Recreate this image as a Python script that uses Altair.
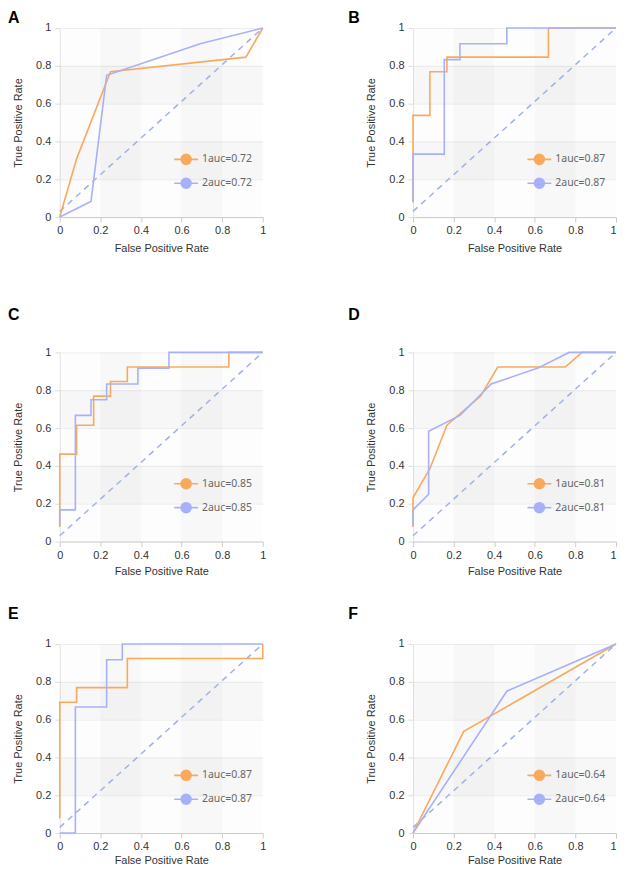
import altair as alt
import pandas as pd

LETTERS = ["A", "B", "C", "D", "E", "F"]
AUC1 = [0.72, 0.87, 0.85, 0.81, 0.87, 0.64]
AUC2 = [0.72, 0.87, 0.85, 0.81, 0.87, 0.64]

FPR1 = [
    [0, 0.083, 0.25, 0.917, 1],
    [0, 0, 0.083, 0.083, 0.167, 0.167, 0.667, 0.667, 1],
    [0, 0, 0.083, 0.083, 0.167, 0.167, 0.25, 0.25, 0.333, 0.333, 0.833, 0.833, 1],
    [0, 0, 0.083, 0.167, 0.25, 0.333, 0.417, 0.75, 0.833, 1],
    [0, 0, 0.083, 0.083, 0.333, 0.333, 1, 1],
    [0, 0.25, 1],
]
TPR1 = [
    [0, 0.308, 0.769, 0.846, 1],
    [0.077, 0.538, 0.538, 0.769, 0.769, 0.846, 0.846, 1, 1],
    [0.077, 0.462, 0.462, 0.615, 0.615, 0.769, 0.769, 0.846, 0.846, 0.923, 0.923, 1, 1],
    [0.077, 0.231, 0.385, 0.615, 0.692, 0.769, 0.923, 0.923, 1, 1],
    [0.077, 0.692, 0.692, 0.769, 0.769, 0.923, 0.923, 1],
    [0, 0.538, 1],
]
FPR2 = [
    [0, 0.154, 0.231, 0.692, 1],
    [0, 0, 0.154, 0.154, 0.231, 0.231, 0.462, 0.462, 1],
    [0, 0, 0.077, 0.077, 0.154, 0.154, 0.231, 0.231, 0.385, 0.385, 0.538, 0.538, 1],
    [0, 0, 0.077, 0.077, 0.231, 0.308, 0.385, 0.615, 0.769, 1],
    [0, 0.077, 0.077, 0.231, 0.231, 0.308, 0.308, 1],
    [0, 0.462, 1],
]
TPR2 = [
    [0, 0.083, 0.75, 0.917, 1],
    [0.083, 0.333, 0.333, 0.833, 0.833, 0.917, 0.917, 1, 1],
    [0.083, 0.167, 0.167, 0.667, 0.667, 0.75, 0.75, 0.833, 0.833, 0.917, 0.917, 1, 1],
    [0.083, 0.167, 0.25, 0.583, 0.667, 0.75, 0.833, 0.917, 1, 1],
    [0, 0, 0.667, 0.667, 0.917, 0.917, 1, 1],
    [0, 0.75, 1],
]

DIAG_X = [0, 1]
DIAG_Y = [0.03, 1]
BAND_EDGES = [0, 0.2, 0.4, 0.6, 0.8, 1]
BAND_SHADE = ["light", "dark", "light", "dark", "light"]
TICKS = [0, 0.2, 0.4, 0.6, 0.8, 1]

ORANGE = "#FAA95C"
BLUE = "#A7B1FA"
DIAG_COLOR = "#9DB3E4"
W, H = 204, 190
FONT = "Liberation Sans"
SYMBOL = "M-2,0L2,0M0.833,0A0.833,0.833,0,1,1,-0.833,0A0.833,0.833,0,1,1,0.833,0Z"

XS = alt.Scale(domain=[0, 1], nice=False)
YS = alt.Scale(domain=[0, 1], nice=False)


def x_axis(title_pad, right_col):
    extra = {}
    if right_col:
        extra["labelAlign"] = {"expr": "datum.value == 1 ? 'right' : 'center'"}
    return alt.Axis(values=TICKS, format="~g", title="False Positive Rate",
                    titleFont=FONT, titleFontSize=11, titleFontWeight="normal",
                    titleColor="#333", titlePadding=title_pad,
                    labelFont=FONT, labelFontSize=11, labelColor="#333",
                    labelFlush=False, labelOverlap=False, labelPadding=3,
                    tickSize=5, tickColor="#CCCCCC", domainColor="#CCCCCC",
                    grid=False, **extra)


Y_AXIS = alt.Axis(values=TICKS, format="~g", title="True Positive Rate",
                  titleFont=FONT, titleFontSize=11, titleFontWeight="normal",
                  titleColor="#333", titlePadding=12,
                  labelFont=FONT, labelFontSize=11, labelColor="#333",
                  labelFlush=False, labelOverlap=False, labelPadding=4,
                  tickSize=5, tickColor="#DDDDDD", domainColor="#DDDDDD",
                  grid=True, gridColor="#ECECEC")


def panel(i, dx, offset, title_pad, right_col):
    lab1 = f"1auc={AUC1[i]:.2f}"
    lab2 = f"2auc={AUC2[i]:.2f}"
    rows = []
    for k, (x, y) in enumerate(zip(FPR1[i], TPR1[i])):
        rows.append({"fpr": x, "tpr": y, "series": lab1, "ord": k})
    for k, (x, y) in enumerate(zip(FPR2[i], TPR2[i])):
        rows.append({"fpr": x, "tpr": y, "series": lab2, "ord": k})
    df = pd.DataFrame(rows)
    bands = pd.DataFrame({"start": BAND_EDGES[:-1], "end": BAND_EDGES[1:], "shade": BAND_SHADE})
    diag = pd.DataFrame({"fpr": DIAG_X, "tpr": DIAG_Y})
    xa = x_axis(title_pad, right_col)
    fill = alt.Fill("shade:N", scale=alt.Scale(domain=["light", "dark"], range=["#FAFAFA", "#C8C8C8"]), legend=None)

    xb = alt.Chart(bands).mark_rect(opacity=0.13).encode(
        x=alt.X("start:Q", scale=XS, axis=xa), x2="end:Q",
        y=alt.value(0), y2=alt.value(H), fill=fill)
    yb = alt.Chart(bands).mark_rect(opacity=0.13).encode(
        y=alt.Y("start:Q", scale=YS, axis=Y_AXIS), y2="end:Q",
        x=alt.value(0), x2=alt.value(W), fill=fill)
    dl = alt.Chart(diag).mark_line(strokeDash=[6, 5], strokeWidth=1.5, color=DIAG_COLOR).encode(
        x=alt.X("fpr:Q", scale=XS, axis=xa), y=alt.Y("tpr:Q", scale=YS, axis=Y_AXIS))
    lines = alt.Chart(df).mark_line(strokeWidth=1.6).encode(
        x=alt.X("fpr:Q", scale=XS, axis=xa),
        y=alt.Y("tpr:Q", scale=YS, axis=Y_AXIS),
        color=alt.Color("series:N", scale=alt.Scale(domain=[lab1, lab2], range=[ORANGE, BLUE]),
                        legend=alt.Legend(orient="none", legendX=120, legendY=125, title=None,
                                          symbolType=SYMBOL, symbolSize=144, symbolStrokeWidth=1.6,
                                          symbolFillColor={"expr": f"datum.index === 0 ? '{ORANGE}' : '{BLUE}'"},
                                          labelFont="Noto Sans", labelFontSize=10.5, labelColor="#666",
                                          labelOffset=9, rowPadding=6, padding=0)),
        order=alt.Order("ord:Q"))
    return alt.layer(xb, yb, dl, lines).properties(
        width=W, height=H,
        title=alt.TitleParams(LETTERS[i], anchor="start", frame="group", dx=dx, offset=offset,
                              fontSize=16, fontWeight="bold", font=FONT, color="#000"))


def indep(c):
    return c.resolve_scale(color="independent", fill="independent").resolve_legend(color="independent")


row1 = indep(alt.hconcat(panel(0, -52, -4, 7, False), panel(1, -65, -4, 7, True), spacing=82))
row2 = indep(alt.hconcat(panel(2, -52, 24, 5, False), panel(3, -65, 24, 5, True), spacing=82))
row3 = indep(alt.hconcat(panel(4, -52, 16, 3, False), panel(5, -65, 16, 3, True), spacing=82))

chart = indep(alt.vconcat(row1, indep(alt.vconcat(row2, row3, spacing=30)), spacing=53)).properties(
    padding=0
).configure_view(stroke=None)

chart.save("out.html", embed_options={"renderer": "svg", "actions": False})
